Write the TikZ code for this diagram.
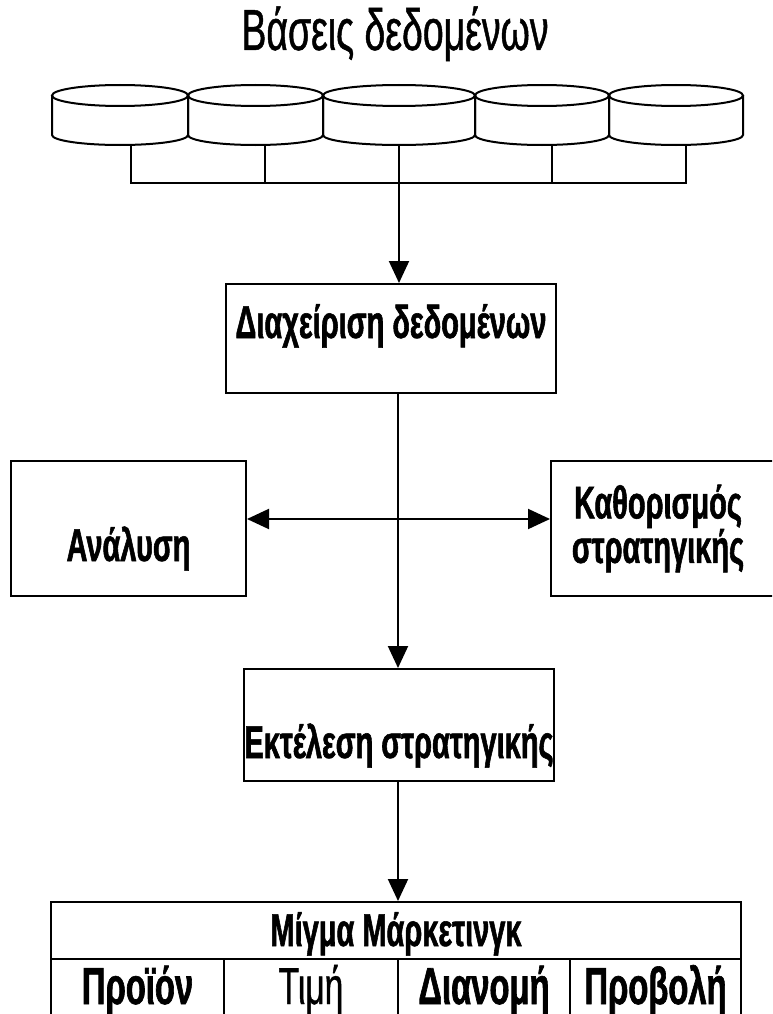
\documentclass[tikz,border=0pt]{standalone}
\usepackage{fontspec}
\usetikzlibrary{arrows.meta}
\newfontfamily\boxfont[FakeStretch=0.63,FakeBold=1.2]{Liberation Sans}
\newfontfamily\titlefont[FakeStretch=0.645,FakeBold=0.8]{Liberation Sans}
\begin{document}
\begin{tikzpicture}[x=1pt,y=-1pt,line width=2pt,>={Triangle[length=22pt,width=20pt]},
  box/.style={draw,rectangle,anchor=north west,inner sep=0pt,font=\boxfont\bfseries\fontsize{46pt}{35pt}\selectfont},
  cell/.style={box,minimum height=72pt,text height=45pt,text depth=27pt,font=\boxfont\bfseries\fontsize{52pt}{52pt}\selectfont}]
\useasboundingbox (0,0) rectangle (772,1014);
\clip (0,0) rectangle (772,1014);

\node[font=\titlefont\fontsize{58pt}{58pt}\selectfont,anchor=base] (title) at (395,50) {Βάσεις δεδομένων};

% database drums: centre x / half width / name
\foreach \cx/\a/\n/\off in {120/68/db1/11, 255.5/67.5/db2/9.5, 399/76/db3/0, 542/67/db4/10, 676/67/db5/10}{
  \draw (\cx,95.5) ellipse [x radius=\a, y radius=10.5];
  \draw (\cx-\a,95.5) -- (\cx-\a,135) arc[start angle=180,end angle=0,x radius=\a,y radius=10] -- (\cx+\a,95.5);
  \coordinate (\n) at (\cx+\off,144.5);
}

\coordinate (bus) at (399,183);
\coordinate (hub) at (398,519);

\node[box,minimum width=330pt,text height=54pt,text depth=55pt] (mgmt) at (225,283) {Διαχείριση δεδομένων};
\node[box,minimum width=235pt,text height=100pt,text depth=35pt] (anal) at (10,460) {Ανάλυση};
\node[box,text width=240pt,minimum height=135pt,align=left] (strat) at (550,460) {\makebox[214pt]{Καθορισμός}\\\makebox[214pt]{στρατηγικής}};
\node[box,minimum width=310pt,text height=89pt,text depth=23pt] (exec) at (243,668) {Εκτέλεση στρατηγικής};

\node[box,minimum width=690pt,text height=44pt,text depth=13pt] (mix) at (50,901) {Μίγμα Μάρκετινγκ};
\node[cell,minimum width=173pt] (product) at (50,958) {Προϊόν};
\node[cell,minimum width=174pt,font=\titlefont\fontsize{52pt}{52pt}\selectfont] (price) at (223,958) {Τιμή};
\node[cell,minimum width=172pt] (place) at (397,958) {Διανομή};
\node[cell,minimum width=171pt] (promo) at (569,958) {Προβολή};

% bus under the databases
\path[draw] (db1) |- (bus) -| (db5);
\path[draw] (db2) -- (db2 |- bus);
\path[draw] (db4) -- (db4 |- bus);
\path[draw,->] (db3) -- (db3 |- mgmt.north);

\path[draw,->] (mgmt.south -| hub) -- (exec.north -| hub);
\path[draw,<->] (anal.east |- hub) -- (strat.west |- hub);
\path[draw,->] (exec.south -| hub) -- (mix.north -| hub);
\end{tikzpicture}
\end{document}
